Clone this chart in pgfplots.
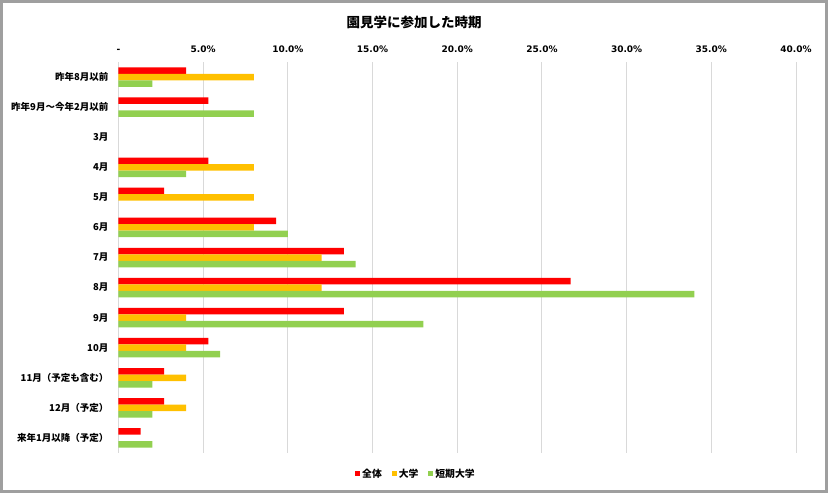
\documentclass[border=0pt]{standalone}
\usepackage{pgfplots}
\pgfplotsset{compat=1.18}
\usepackage{fontspec}
\setmainfont{Noto Sans CJK JP}
\newfontfamily\numfont{DejaVu Sans}
\definecolor{cRed}{HTML}{FF0000}
\definecolor{cOra}{HTML}{FFC000}
\definecolor{cGre}{HTML}{92D050}
\definecolor{cGrid}{HTML}{D9D9D9}
\begin{document}
\begin{tikzpicture}
\path[use as bounding box] (0pt,0pt) rectangle (828pt,493pt);
\draw[gray!75, line width=3pt] (1.5pt,1.5pt) rectangle (826.5pt,491.5pt);
\node[font=\fontsize{13.5}{15}\selectfont\bfseries] at (414pt,471pt) {園見学に参加した時期};
\begin{axis}[
  at={(118.5pt,40pt)}, anchor=south west,
  scale only axis, width=677.5pt, height=391pt,
  xbar, bar width=6.5pt,
  xmin=0, xmax=40, ymin=-0.5, ymax=12.5,
  y dir=reverse,
  xtick={0,5,...,40},
  xticklabels={-,5.0\%,10.0\%,15.0\%,20.0\%,25.0\%,30.0\%,35.0\%,40.0\%},
  xticklabel pos=upper,
  xticklabel style={font=\numfont\fontsize{9}{10}\selectfont\bfseries, inner sep=0pt, anchor=south, yshift=9pt},
  ytick={0,...,12},
  yticklabels={昨年8月以前,昨年9月～今年2月以前,3月,4月,5月,6月,7月,8月,9月,10月,11月（予定も含む）,12月（予定）,来年1月以降（予定）},
  yticklabel style={font=\fontsize{9.5}{10}\selectfont\bfseries, inner sep=0pt, anchor=east, xshift=-10pt},
  major tick length=0pt,
  axis line style={draw=none},
  xmajorgrids, grid style={cGrid, line width=1pt},
  legend style={at={(0.439,-0.0537)}, anchor=center, draw=none, legend columns=3,
    font=\fontsize{9.8}{11}\selectfont\bfseries,
    /tikz/every even column/.append style={column sep=8pt}},
  legend image code/.code={\fill (0pt,-2.5pt) rectangle (5pt,2.5pt);},
]
\addplot[fill=cRed, draw=none, bar shift=6.5pt] coordinates {
(4.0,0) (5.3,1) (5.3,3) (2.7,4) (9.3,5) (13.3,6) (26.7,7) (13.3,8) (5.3,9) (2.7,10) (2.7,11) (1.3,12)};
\addplot[fill=cOra, draw=none, bar shift=0pt] coordinates {
(8.0,0) (8.0,3) (8.0,4) (8.0,5) (12.0,6) (12.0,7) (4.0,8) (4.0,9) (4.0,10) (4.0,11)};
\addplot[fill=cGre, draw=none, bar shift=-6.5pt] coordinates {
(2.0,0) (8.0,1) (4.0,3) (10.0,5) (14.0,6) (34.0,7) (18.0,8) (6.0,9) (2.0,10) (2.0,11) (2.0,12)};
\legend{全体,大学,短期大学}
\end{axis}
\end{tikzpicture}
\end{document}
